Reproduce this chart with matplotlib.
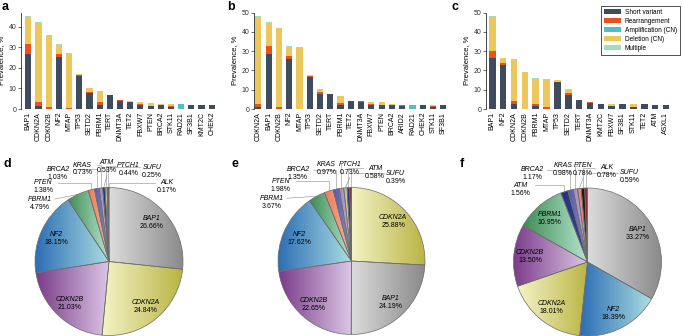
import numpy as np
import matplotlib
matplotlib.use("Agg")
import matplotlib.pyplot as plt
from matplotlib.colors import LinearSegmentedColormap

plt.rcParams['font.family'] = ['Liberation Sans', 'DejaVu Sans']

# ---- bar data (prevalence %) ----
genes_a = ["BAP1", "CDKN2A", "CDKN2B", "NF2", "MTAP", "TP53", "SETD2", "PBRM1", "TERT", "DNMT3A",
           "TET2", "FBXW7", "PTEN", "BRCA2", "STK11", "RAD21", "SF3B1", "KMT2C", "CHEK2"]
short_a = [27.0, 1.5, 0.0, 25.3, 0.0, 16.0, 7.6, 2.1, 6.8, 4.0, 3.6, 2.1, 1.6, 1.8, 1.1, 0.0, 2.1, 1.8, 1.8]
rearr_a = [4.5, 2.0, 0.8, 1.3, 0.3, 0.5, 0.8, 1.1, 0.0, 0.3, 0.0, 0.3, 0.0, 0.1, 0.3, 0.0, 0.0, 0.0, 0.0]
amp_a = [0, 0, 0, 0, 0, 0, 0, 0, 0, 0, 0, 0, 0, 0, 0, 2.2, 0, 0, 0]
del_a = [13.2, 38.3, 35.0, 4.4, 27.0, 0.5, 1.6, 5.7, 0.0, 0.2, 0.0, 1.1, 1.3, 0.4, 0.9, 0.0, 0.0, 0.0, 0.3]
mult_a = [0.6, 0.5, 0, 0.5, 0, 0, 0, 0, 0, 0, 0.3, 0, 0, 0, 0, 0, 0, 0.2, 0]

genes_b = ["CDKN2A", "BAP1", "CDKN2B", "NF2", "MTAP", "TP53", "SETD2", "TERT", "PBRM1", "TET2",
           "DNMT3A", "FBXW7", "PTEN", "BRCA2", "ARID2", "RAD21", "CHEK2", "STK11", "SF3B1"]
short_b = [1.2, 28.3, 0.0, 26.0, 0.0, 16.7, 7.9, 7.6, 2.2, 4.3, 3.6, 2.2, 1.9, 1.9, 1.4, 0.0, 1.9, 1.2, 2.1]
rearr_b = [1.4, 4.3, 0.9, 1.6, 0.2, 0.4, 0.7, 0.0, 0.7, 0.0, 0.5, 0.6, 0.0, 0.0, 0.5, 0.0, 0.0, 0.4, 0.0]
amp_b = [0, 0, 0, 0, 0, 0, 0, 0, 0, 0, 0, 0, 0, 0, 0, 2.2, 0, 0, 0]
del_b = [45.2, 12.1, 41.1, 4.6, 31.9, 0.5, 1.6, 0.0, 3.8, 0.0, 0.0, 0.8, 1.7, 0.5, 0.3, 0.0, 0.2, 0.5, 0.0]
mult_b = [0.3, 0.5, 0, 0.6, 0, 0, 0, 0, 0, 0, 0, 0, 0, 0, 0, 0, 0, 0, 0]

genes_c = ["BAP1", "NF2", "CDKN2A", "CDKN2B", "PBRM1", "MTAP", "TP53", "SETD2", "TERT", "DNMT3A",
           "KMT2C", "FBXW7", "SF3B1", "STK11", "TET2", "ATM", "ASXL1"]
short_c = [26.6, 22.8, 2.8, 0.0, 1.7, 0.0, 14.2, 7.3, 4.7, 3.3, 2.4, 1.4, 2.4, 0.9, 2.4, 2.1, 2.1]
rearr_c = [3.5, 1.2, 1.4, 0.2, 0.9, 1.2, 0.0, 0.8, 0.0, 0.3, 0.0, 0.3, 0.0, 0.0, 0.0, 0.0, 0.0]
amp_c = [0] * 17
del_c = [17.8, 2.3, 21.8, 19.2, 13.0, 14.2, 0.7, 2.1, 0.0, 0.2, 0.0, 0.9, 0.0, 1.7, 0.0, 0.0, 0.0]
mult_c = [0.5, 0, 0, 0, 0.3, 0, 0, 0, 0, 0, 0, 0, 0, 0, 0, 0, 0]

layer_names = ["Short variant", "Rearrangement", "Amplification (CN)", "Deletion (CN)", "Multiple"]
layer_colors = ["#3e4c5e", "#e8521f", "#4fc0c2", "#ecc85c", "#a6dcb9"]

# ---- pie data (% of alterations) ----
pie_d_genes = ["BAP1", "CDKN2A", "CDKN2B", "NF2", "PBRM1", "PTEN", "BRCA2", "KRAS", "ATM", "PTCH1", "SUFU", "ALK"]
pie_d_pct = [26.66, 24.84, 21.03, 18.15, 4.79, 1.38, 1.03, 0.73, 0.53, 0.44, 0.25, 0.17]
pie_e_genes = ["CDKN2A", "BAP1", "CDKN2B", "NF2", "PBRM1", "PTEN", "BRCA2", "KRAS", "PTCH1", "ATM", "SUFU"]
pie_e_pct = [25.88, 24.19, 22.65, 17.62, 3.67, 1.98, 1.35, 0.97, 0.73, 0.58, 0.39]
pie_f_genes = ["BAP1", "NF2", "CDKN2A", "CDKN2B", "PBRM1", "ATM", "BRCA2", "KRAS", "PTEN", "ALK", "SUFU"]
pie_f_pct = [33.27, 18.39, 18.01, 13.50, 10.95, 1.56, 1.17, 0.98, 0.78, 0.78, 0.59]

# outside label positions (pie radius units) for the small slices
lab_d = [(-0.93, 0.79), (-0.89, 1.01), (-0.69, 1.19), (-0.36, 1.25), (-0.03, 1.28), (0.26, 1.24), (0.58, 1.22), (0.78, 1.01)]
lab_e = [(-1.08, 0.80), (-0.96, 1.03), (-0.73, 1.19), (-0.34, 1.26), (-0.02, 1.26), (0.32, 1.21), (0.60, 1.14)]
lab_f = [(-0.91, 0.98), (-0.75, 1.19), (-0.33, 1.25), (-0.06, 1.25), (0.26, 1.22), (0.57, 1.15)]

# left -> right gradient colours of the slices
gene_grad = {
    "BAP1": ("#dcdcdc", "#8a8a8a"),
    "CDKN2A": ("#f4f3c6", "#bab545"),
    "CDKN2B": ("#7b3c8a", "#dcc6e6"),
    "NF2": ("#2c6db4", "#aadde2"),
    "PBRM1": ("#3e8d55", "#b7e4cf"),
    "PTEN": ("#ef7a58", "#f6b596"),
    "BRCA2": ("#565aa6", "#9190d0"),
    "KRAS": ("#9c88c0", "#c6b8de"),
    "ATM": ("#252f7e", "#3a469a"),
    "PTCH1": ("#bdbc80", "#dcdba8"),
    "SUFU": ("#7a1b2b", "#b0283a"),
    "ALK": ("#111111", "#333333"),
}

W, H = 683, 336
fig = plt.figure(figsize=(6.83, 3.36), dpi=100)


def px_axes(x0, x1, ytop, ybot):
    return fig.add_axes([x0 / W, 1 - ybot / H, (x1 - x0) / W, (ybot - ytop) / H])


def draw_bars(ax, genes, layers, ymax, xl, yt, legend=False):
    x = np.arange(len(genes))
    bottom = np.zeros(len(genes))
    for vals, col, name in zip(layers, layer_colors, layer_names):
        vals = np.array(vals, dtype=float)
        ax.bar(x, vals, 0.6, bottom=bottom, color=col, label=name, linewidth=0)
        bottom += vals
    ax.set_xlim(*xl)
    ax.set_ylim(0, ymax)
    ax.set_yticks(yt)
    ax.set_xticks(x)
    ax.set_xticklabels(genes, rotation=90, fontsize=5)
    ax.tick_params(axis='x', length=0, pad=2)
    ax.tick_params(axis='y', labelsize=5, length=2, width=0.5, pad=1.5, colors='#333333')
    for s in ["top", "right", "bottom"]:
        ax.spines[s].set_visible(False)
    ax.spines["left"].set_linewidth(0.5)
    ax.set_ylabel("Prevalence, %", fontsize=5.5, labelpad=2)
    if legend:
        leg = ax.legend(loc="upper right", bbox_to_anchor=(680 / W, 1 - 6 / H), bbox_transform=fig.transFigure,
                        fontsize=4.7, frameon=True, fancybox=False, edgecolor="black",
                        handlelength=2.6, handleheight=0.8, borderpad=0.5, labelspacing=0.3,
                        handletextpad=0.5, borderaxespad=0)
        leg.get_frame().set_linewidth(0.6)


ax_a = px_axes(21, 218, 12.5, 109)
draw_bars(ax_a, genes_a, [short_a, rearr_a, amp_a, del_a, mult_a], 47, (-0.72, 18.62), [0, 10, 20, 30, 40])
ax_b = px_axes(254, 447, 12.5, 109)
draw_bars(ax_b, genes_b, [short_b, rearr_b, amp_b, del_b, mult_b], 50, (-0.42, 18.36), [0, 10, 20, 30, 40, 50])
ax_c = px_axes(486, 670, 12.5, 109)
draw_bars(ax_c, genes_c, [short_c, rearr_c, amp_c, del_c, mult_c], 50, (-0.58, 16.37), [0, 10, 20, 30, 40, 50],
          legend=True)


def draw_pie(box, cx, cy, r, genes, pct, labpos):
    x0, x1, ytop, ybot = box
    ax = px_axes(x0, x1, ytop, ybot)
    wedges, _ = ax.pie(pct, startangle=90, counterclock=False, radius=1,
                       wedgeprops=dict(facecolor="none", edgecolor="#6b6b6b", linewidth=0.5, zorder=3))
    grad = np.linspace(0, 1, 64).reshape(1, -1)
    k = 0
    for w, g, p in zip(wedges, genes, pct):
        v = w.get_path().vertices
        cm = LinearSegmentedColormap.from_list(g, list(gene_grad[g]))
        im = ax.imshow(grad, extent=(v[:, 0].min(), v[:, 0].max(), v[:, 1].min(), v[:, 1].max()),
                       cmap=cm, aspect="auto", interpolation="bilinear", zorder=1)
        im.set_clip_path(w)
        th = np.deg2rad((w.theta1 + w.theta2) / 2)
        if p > 5:
            lx, ly = 0.78 * np.cos(th), 0.78 * np.sin(th)
        else:
            lx, ly = labpos[k]
            k += 1
            px, py = np.cos(th), np.sin(th)
            if abs(lx - px) < 0.12:
                pts = [(lx, ly - 0.12), (px, py)]
            elif lx < px:
                pts = [(lx + 0.2, ly + 0.054), (px, ly + 0.054), (px, py)]
            else:
                pts = [(lx - 0.16, ly + 0.054), (px, ly + 0.054), (px, py)]
            if len(pts) == 3 and pts[1][1] < py:
                pts = [pts[0], (px, py)]
            xs, ys = zip(*pts)
            ax.plot(xs, ys, color="#8c8c8c", lw=0.4, zorder=2)
        ax.text(lx, ly + 0.054, g, fontsize=5, style="italic", ha="center", va="center", zorder=4)
        ax.text(lx, ly - 0.054, "%.2f%%" % p, fontsize=5, ha="center", va="center", zorder=4)
    ax.set_aspect("auto")
    ax.set_xlim((x0 - cx) / r, (x1 - cx) / r)
    ax.set_ylim((cy - ybot) / r, (cy - ytop) / r)
    ax.axis("off")


draw_pie((0, 228, 150, 336), 109, 261.5, 74, pie_d_genes, pie_d_pct, lab_d)
draw_pie((228, 455, 150, 336), 351.5, 261, 73.5, pie_e_genes, pie_e_pct, lab_e)
draw_pie((455, 683, 150, 336), 587.5, 262, 74, pie_f_genes, pie_f_pct, lab_f)

for letter, x, y in [("a", 2, 7), ("b", 227, 7), ("c", 452, 7), ("d", 3, 164), ("e", 232, 164), ("f", 460, 164)]:
    fig.text(x / W, 1 - y / H, letter, fontsize=9, fontweight="bold", va="center", ha="left")

fig.savefig("out.png", dpi=100)
